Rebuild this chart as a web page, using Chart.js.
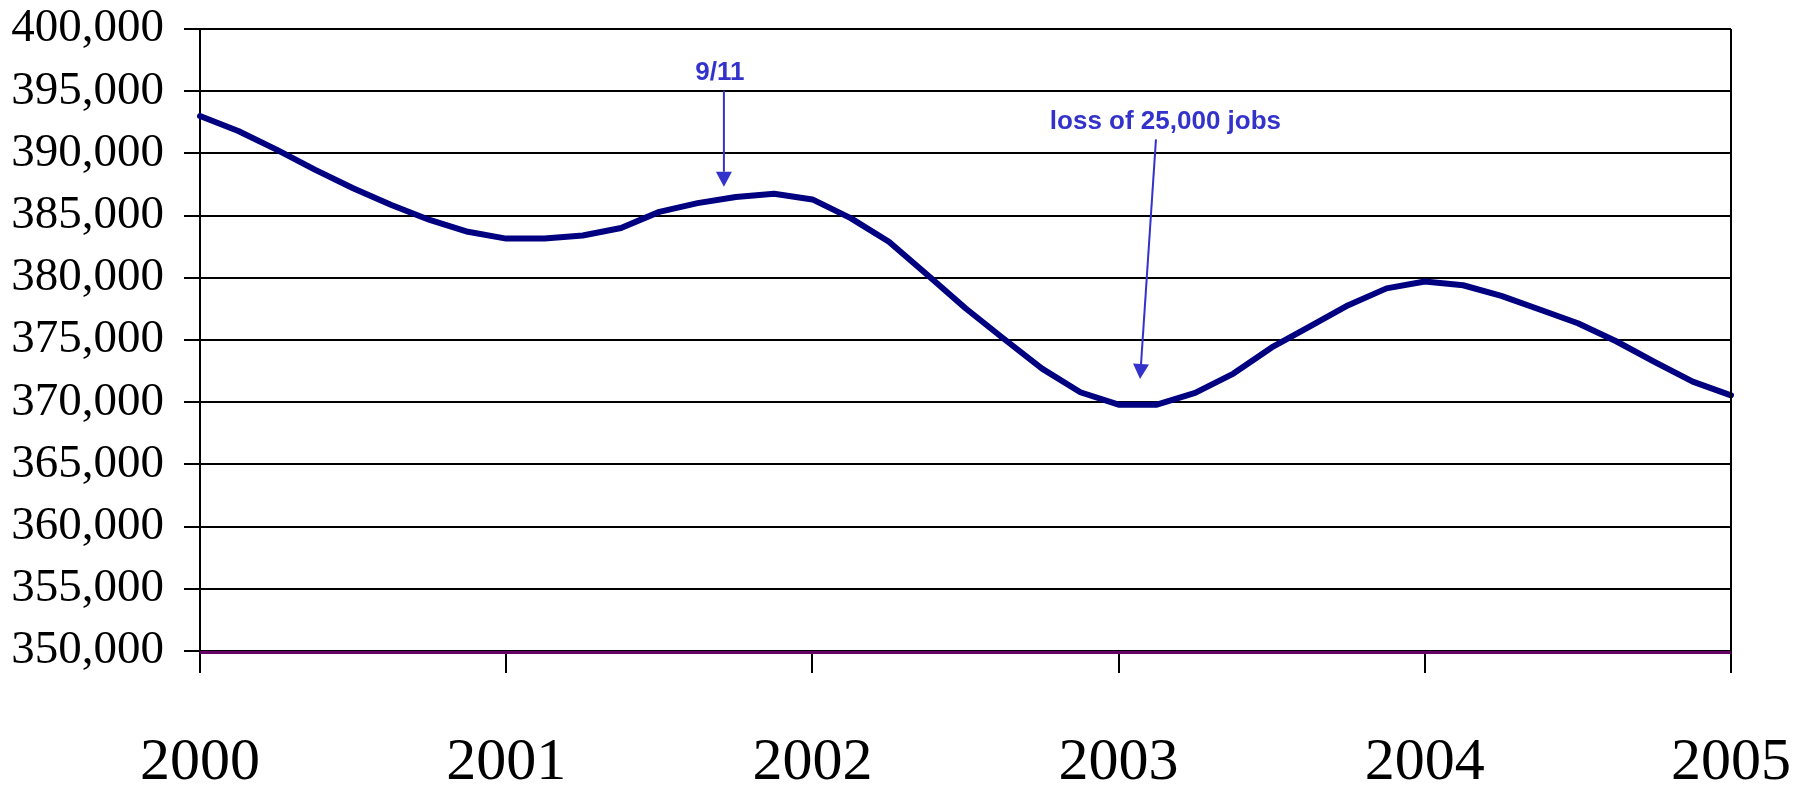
<!DOCTYPE html>
<html>
<head>
<meta charset="utf-8">
<script src="https://cdn.jsdelivr.net/npm/chart.js@4.4.1/dist/chart.umd.min.js"></script>
<style>
  html, body { margin: 0; padding: 0; background: #ffffff; }
  #wrap { width: 1808px; height: 790px; }
</style>
</head>
<body>
<div id="wrap"><canvas id="jobsChart" width="1808" height="790"></canvas></div>
<script>
// time positions (decimal years, 8 readings per year)
const periods = [
    2000, 2000.125, 2000.25, 2000.375, 2000.5, 2000.625, 2000.75, 2000.875,
    2001, 2001.125, 2001.25, 2001.375, 2001.5, 2001.625, 2001.75, 2001.875,
    2002, 2002.125, 2002.25, 2002.375, 2002.5, 2002.625, 2002.75, 2002.875,
    2003, 2003.125, 2003.25, 2003.375, 2003.5, 2003.625, 2003.75, 2003.875,
    2004, 2004.125, 2004.25, 2004.375, 2004.5, 2004.625, 2004.75, 2004.875,
    2005
];

// jobs
const employment = [
    393000, 391800, 390300, 388700, 387200, 385850, 384650, 383700,
    383150, 383150, 383400, 384000, 385300, 386000, 386500, 386750,
    386300, 384800, 382900, 380250, 377550, 375100, 372700, 370800,
    369800, 369800, 370750, 372300, 374400, 376100, 377800, 379150,
    379700, 379400, 378550, 377450, 376350, 374900, 373250, 371650,
    370550
];

// purple series sitting on the floor of the chart
const floorX = [2000, 2005];
const floorY = [349880, 349880];

const yearTicks = [2000, 2001, 2002, 2003, 2004, 2005];

// callouts in data units
const noteText = ["9/11", "loss of 25,000 jobs"];
const noteLabelX = [2001.698, 2003.153];
const noteLabelY = [395900, 392000];
const noteFromX = [2001.711, 2003.122];
const noteFromY = [395040, 391130];
const noteToX = [2001.711, 2003.070];
const noteToY = [387320, 371860];

const calloutPlugin = {
    id: "callouts",
    afterDraw(chart) {
        const ctx = chart.ctx;
        const xs = chart.scales.x;
        const ys = chart.scales.y;
        const area = chart.chartArea;

        // right frame line
        ctx.save();
        ctx.strokeStyle = "#000000";
        ctx.lineWidth = 2;
        ctx.beginPath();
        ctx.moveTo(area.right, area.top);
        ctx.lineTo(area.right, area.bottom);
        ctx.stroke();
        ctx.restore();

        ctx.save();
        ctx.fillStyle = "#3333cc";
        ctx.strokeStyle = "#3333cc";
        ctx.font = "bold 26px 'Liberation Sans', Arial, sans-serif";
        ctx.textAlign = "center";
        ctx.textBaseline = "alphabetic";
        for (let i = 0; i < noteText.length; i++) {
            ctx.fillText(noteText[i], xs.getPixelForValue(noteLabelX[i]), ys.getPixelForValue(noteLabelY[i]));

            const x1 = xs.getPixelForValue(noteFromX[i]);
            const y1 = ys.getPixelForValue(noteFromY[i]);
            const x2 = xs.getPixelForValue(noteToX[i]);
            const y2 = ys.getPixelForValue(noteToY[i]);
            const ang = Math.atan2(y2 - y1, x2 - x1);
            const headLen = 15;
            const headHalf = 8;
            const bx = x2 - headLen * Math.cos(ang);
            const by = y2 - headLen * Math.sin(ang);

            ctx.lineWidth = 2;
            ctx.beginPath();
            ctx.moveTo(x1, y1);
            ctx.lineTo(bx, by);
            ctx.stroke();

            ctx.beginPath();
            ctx.moveTo(x2, y2);
            ctx.lineTo(bx + headHalf * Math.sin(ang), by - headHalf * Math.cos(ang));
            ctx.lineTo(bx - headHalf * Math.sin(ang), by + headHalf * Math.cos(ang));
            ctx.closePath();
            ctx.fill();
        }
        ctx.restore();
    }
};

new Chart(document.getElementById("jobsChart"), {
    type: "line",
    data: {
        datasets: [
            {
                label: "Jobs",
                data: periods.map((p, i) => ({ x: p, y: employment[i] })),
                borderColor: "#000080",
                borderWidth: 6,
                borderCapStyle: "round",
                borderJoinStyle: "round",
                pointRadius: 0,
                tension: 0,
                fill: false,
                clip: false,
                order: 1
            },
            {
                label: "Floor",
                data: floorX.map((p, i) => ({ x: p, y: floorY[i] })),
                borderColor: "#660066",
                borderWidth: 3,
                pointRadius: 0,
                tension: 0,
                fill: false,
                clip: false,
                order: 2
            }
        ]
    },
    options: {
        responsive: false,
        animation: false,
        devicePixelRatio: 1,
        layout: { padding: { top: 29, right: 77, bottom: 0, left: 0 } },
        plugins: {
            legend: { display: false },
            tooltip: { enabled: false }
        },
        scales: {
            x: {
                type: "linear",
                min: 2000,
                max: 2005,
                afterBuildTicks: scale => { scale.ticks = yearTicks.map(v => ({ value: v })); },
                afterFit: scale => {
                    scale.height = 139;
                    scale.paddingLeft = 0;
                    scale.paddingRight = 0;
                },
                ticks: {
                    color: "#000000",
                    padding: 54,
                    maxRotation: 0,
                    autoSkip: false,
                    font: { family: "'Liberation Serif', 'Times New Roman', serif", size: 60 },
                    callback: v => String(v)
                },
                grid: {
                    drawOnChartArea: false,
                    drawTicks: true,
                    tickLength: 22,
                    color: "#000000",
                    lineWidth: 2
                },
                border: { color: "#000000", width: 3 }
            },
            y: {
                min: 350000,
                max: 400000,
                afterFit: scale => {
                    scale.width = 200;
                    scale.paddingTop = 0;
                    scale.paddingBottom = 0;
                },
                ticks: {
                    stepSize: 5000,
                    color: "#000000",
                    padding: 20,
                    font: { family: "'Liberation Serif', 'Times New Roman', serif", size: 47 },
                    callback: v => v.toLocaleString("en-US")
                },
                grid: {
                    color: "#000000",
                    lineWidth: 2,
                    tickLength: 16
                },
                border: { color: "#000000", width: 2 }
            }
        }
    },
    plugins: [calloutPlugin]
});
</script>
</body>
</html>
